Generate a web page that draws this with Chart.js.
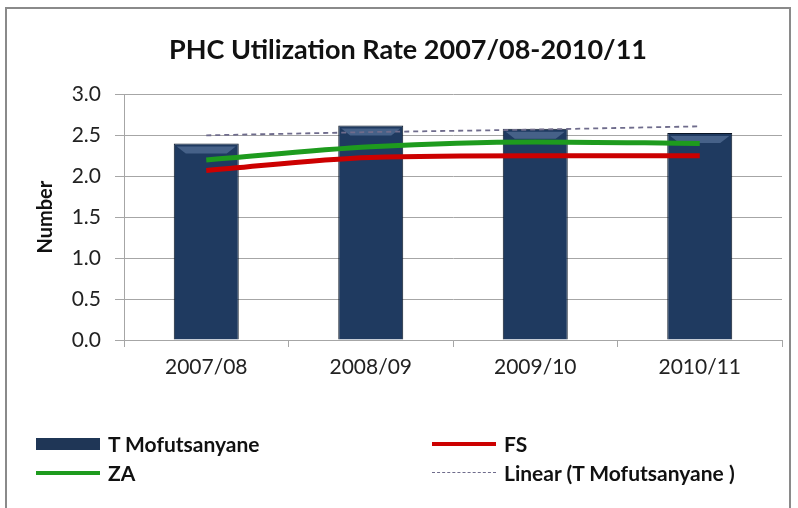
<!DOCTYPE html>
<html>
<head>
<meta charset="utf-8">
<script src="https://cdn.jsdelivr.net/npm/chart.js@4.4.1/dist/chart.umd.min.js"></script>
<style>
  html, body { margin: 0; padding: 0; background: #fff; }
  #wrap { position: relative; width: 798px; height: 508px; overflow: hidden; font-family: Lato, "Open Sans", sans-serif; }
  #frame { position: absolute; left: 5px; top: 7px; width: 786px; height: 520px; border: 2px solid #8a8a8a; box-sizing: border-box; }
  #chart { position: absolute; left: 0; top: 0; }
  .lg { position: absolute; font-weight: bold; font-size: 21px; color: #111; line-height: 24px; white-space: nowrap; }
  .sw { position: absolute; }
</style>
</head>
<body>
<div id="wrap">
  <div id="frame"></div>
  <canvas id="chart" width="798" height="508"></canvas>
  <div id="legend"></div>
</div>
<script>
// ── Data ──────────────────────────────────────────────
const YEARS = ["2007/08", "2008/09", "2009/10", "2010/11"];
const T_MOFUTSANYANE = [2.40, 2.62, 2.58, 2.53];
const FS = [2.07, 2.23, 2.25, 2.25];
const ZA = [2.20, 2.36, 2.42, 2.40];
const LINEAR_TREND = [2.50, 2.54, 2.57, 2.61];
const Y_TICKS = [0, 0.5, 1.0, 1.5, 2.0, 2.5, 3.0];

const GRID = "#a6a6a6";
const TEXT = "#222";

/* ── Bar fill: dark navy with darker edges ───────────── */
function barFill(ctx) {
  const chart = ctx.chart;
  const el = ctx.element;
  if (!el || el.x === undefined || !chart.chartArea) return "#1f3a60";
  const half = el.width / 2;
  const g = chart.ctx.createLinearGradient(el.x - half, 0, el.x + half, 0);
  g.addColorStop(0, "#0d1a2c");
  g.addColorStop(0.12, "#1c355a");
  g.addColorStop(0.5, "#234372");
  g.addColorStop(0.88, "#1c355a");
  g.addColorStop(1, "#0d1a2c");
  return g;
}

// light bevel on top of each bar, positioned from the bar elements
const bevel = {
  id: "bevel",
  afterDatasetDraw(chart, args) {
    const ds = chart.data.datasets[args.index];
    if (ds.type !== "bar") return;
    const c = chart.ctx;
    args.meta.data.forEach(bar => {
      const half = bar.width / 2;
      c.save();
      c.fillStyle = "rgba(110,135,175,0.5)";
      c.beginPath();
      c.moveTo(bar.x - half + 3, bar.y + 3);
      c.lineTo(bar.x + half - 3, bar.y + 3);
      c.lineTo(bar.x + half - 12, bar.y + 10);
      c.lineTo(bar.x - half + 12, bar.y + 10);
      c.closePath();
      c.fill();
      c.restore();
    });
  }
};

new Chart(document.getElementById("chart"), {
  data: {
    labels: YEARS,
    datasets: [
      {
        type: "line", label: "Linear (T Mofutsanyane )", data: LINEAR_TREND,
        borderColor: "#6f6c8c", borderWidth: 1.8, borderDash: [5, 4],
        pointRadius: 0, tension: 0, order: 0
      },
      {
        type: "line", label: "ZA", data: ZA,
        borderColor: "#1e9b1e", borderWidth: 5, pointRadius: 0,
        tension: 0.4, cubicInterpolationMode: "monotone", order: 1
      },
      {
        type: "line", label: "FS", data: FS,
        borderColor: "#cc0000", borderWidth: 5, pointRadius: 0,
        tension: 0.4, cubicInterpolationMode: "monotone", order: 2
      },
      {
        type: "bar", label: "T Mofutsanyane", data: T_MOFUTSANYANE,
        backgroundColor: barFill, borderColor: "#0b1626", borderWidth: 1,
        categoryPercentage: 1, barPercentage: 0.395, order: 3
      }
    ]
  },
  options: {
    responsive: false,
    animation: false,
    layout: { padding: { left: 34, right: 16, top: 0, bottom: 118 } },
    plugins: {
      legend: { display: false },
      tooltip: { enabled: false },
      title: {
        display: true, text: "PHC Utilization Rate 2007/08-2010/11",
        color: "#111", font: { family: "Lato", size: 27, weight: "bold" },
        padding: { top: 34, bottom: 28 }
      }
    },
    scales: {
      x: {
        offset: true,
        grid: { offset: true, drawOnChartArea: false, drawTicks: true, tickLength: 7, color: GRID },
        border: { color: GRID, width: 1 },
        ticks: { color: TEXT, font: { family: "Lato", size: 21 }, padding: 8 },
        afterFit(scale) { scale.height = 50; }
      },
      y: {
        min: 0, max: 3,
        afterBuildTicks(scale) { scale.ticks = Y_TICKS.map(v => ({ value: v })); },
        grid: { color: GRID, lineWidth: 1, tickLength: 9 },
        border: { color: GRID, width: 1 },
        ticks: {
          color: TEXT, font: { family: "Lato", size: 21 }, padding: 14,
          callback: v => Number(v).toFixed(1)
        },
        title: {
          display: true, text: "Number", color: "#111",
          font: { family: "Lato", size: 20, weight: "bold" }, padding: { top: 0, bottom: 0 }
        },
        afterFit(scale) { scale.width = 90; }
      }
    }
  },
  plugins: [bevel]
});

/* ── HTML legend (2 columns, like the original) ─────── */
const legendItems = [
  { text: "T Mofutsanyane", x: 36, y: 444, kind: "box", color: "#1f3656" },
  { text: "FS", x: 432, y: 444, kind: "line", color: "#cc0000" },
  { text: "ZA", x: 36, y: 473, kind: "line", color: "#1e9b1e" },
  { text: "Linear (T Mofutsanyane )", x: 432, y: 473, kind: "dash", color: "#6f6c8c" }
];
const legend = document.getElementById("legend");
legendItems.forEach(it => {
  const sw = document.createElement("div");
  sw.className = "sw";
  sw.style.left = it.x + "px";
  sw.style.width = "64px";
  if (it.kind === "box") {
    sw.style.top = (it.y - 6) + "px"; sw.style.height = "12px"; sw.style.background = it.color;
  } else if (it.kind === "line") {
    sw.style.top = (it.y - 2) + "px"; sw.style.height = "4px"; sw.style.background = it.color;
  } else {
    sw.style.top = (it.y - 1) + "px"; sw.style.height = "0"; sw.style.borderTop = "1px dashed " + it.color;
  }
  legend.appendChild(sw);
  const t = document.createElement("div");
  t.className = "lg";
  t.style.left = (it.x + 72) + "px";
  t.style.top = (it.y - 12) + "px";
  t.textContent = it.text;
  legend.appendChild(t);
});
</script>
</body>
</html>
